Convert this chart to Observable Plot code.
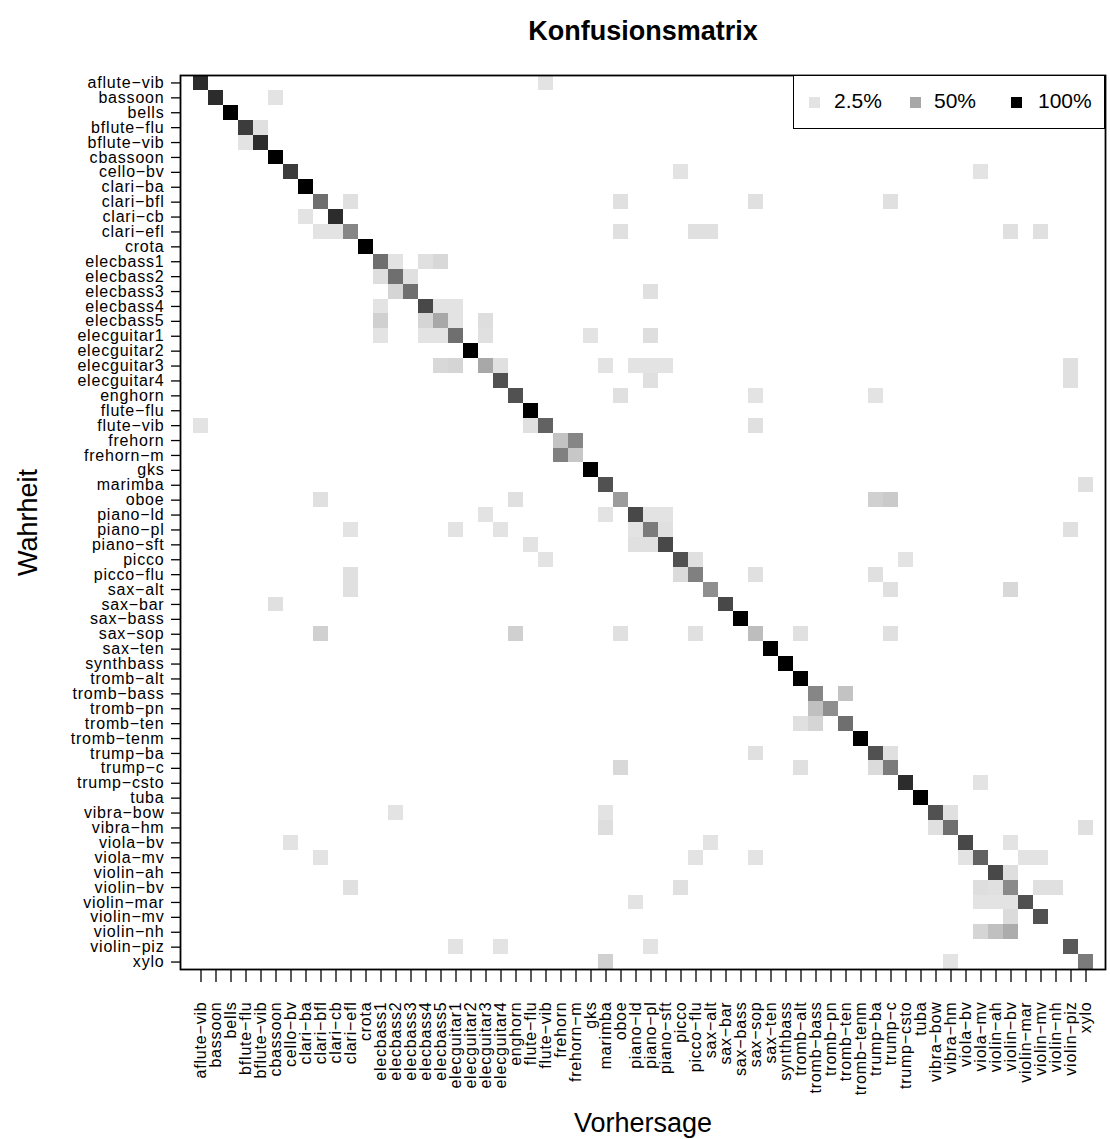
<!DOCTYPE html>
<html>
<head>
<meta charset="utf-8">
<script src="https://cdn.jsdelivr.net/npm/d3@7"></script>
<script src="https://cdn.jsdelivr.net/npm/@observablehq/plot@0.6"></script>
<style>
  body { margin: 0; background: #fff; font-family: "Liberation Sans", Arial, sans-serif; }
  #wrap { position: relative; width: 1110px; height: 1139px; }
  #wrap svg g[aria-label="x-axis tick label"] text,
  #wrap svg g[aria-label="y-axis tick label"] text { letter-spacing: 0.8px; }
  #legend { position: absolute; left: 793px; top: 75px; width: 312px; height: 54px; box-sizing: border-box;
            border: 1.8px solid #000; background: #fff; }
  #legend .sw { position: absolute; top: 21px; width: 11px; height: 11px; }
  #legend .lb { position: absolute; top: 13px; font-size: 21px; line-height: 24px; color: #000; }
</style>
</head>
<body>
<div id="wrap"></div>
<script>
// Klassen (Zeilen = Wahrheit, Spalten = Vorhersage)
const classes = [
  "aflute-vib","bassoon","bells","bflute-flu","bflute-vib","cbassoon","cello-bv","clari-ba","clari-bfl","clari-cb",
  "clari-efl","crota","elecbass1","elecbass2","elecbass3","elecbass4","elecbass5","elecguitar1","elecguitar2","elecguitar3",
  "elecguitar4","enghorn","flute-flu","flute-vib","frehorn","frehorn-m","gks","marimba","oboe","piano-ld",
  "piano-pl","piano-sft","picco","picco-flu","sax-alt","sax-bar","sax-bass","sax-sop","sax-ten","synthbass",
  "tromb-alt","tromb-bass","tromb-pn","tromb-ten","tromb-tenm","trump-ba","trump-c","trump-csto","tuba","vibra-bow",
  "vibra-hm","viola-bv","viola-mv","violin-ah","violin-bv","violin-mar","violin-mv","violin-nh","violin-piz","xylo"
];

// Index der wahren Klasse je Zelle
const truthIdx = [
  0,0, 1,1, 2, 3,3, 4,4, 5, 6,6,6, 7, 8,8,8,8,8, 9,9,
  10,10,10,10,10,10,10,10, 11, 12,12,12,12, 13,13,13, 14,14,14, 15,15,15,15,
  16,16,16,16,16, 17,17,17,17,17,17,17, 18, 19,19,19,19,19,19,19,19,19,
  20,20,20, 21,21,21,21, 22, 23,23,23,23, 24,24, 25,25, 26, 27,27,
  28,28,28,28,28, 29,29,29,29,29, 30,30,30,30,30,30,30, 31,31,31,31,
  32,32,32,32, 33,33,33,33,33, 34,34,34,34, 35,35, 36, 37,37,37,37,37,37,37,
  38, 39, 40, 41,41, 42,42, 43,43,43, 44, 45,45,45, 46,46,46,46, 47,47, 48,
  49,49,49,49, 50,50,50,50, 51,51,51,51, 52,52,52,52,52,52,52, 53,53,
  54,54,54,54,54,54,54, 55,55,55,55,55, 56,56, 57,57,57, 58,58,58,58, 59,59,59
];

// Index der vorhergesagten Klasse je Zelle
const predIdx = [
  0,23, 1,5, 2, 3,4, 3,4, 5, 6,32,52, 7, 8,10,28,37,46, 7,9,
  8,9,10,28,33,34,54,56, 11, 12,13,15,16, 12,13,14, 13,14,30, 12,15,16,17,
  12,15,16,17,19, 12,15,16,17,19,26,30, 18, 16,17,19,20,27,29,30,31,58,
  20,30,58, 21,28,37,45, 22, 0,22,23,37, 24,25, 24,25, 26, 27,59,
  8,21,28,45,46, 19,27,29,30,31, 10,17,20,29,30,31,58, 22,29,30,31,
  23,32,33,47, 10,32,33,37,45, 10,34,46,54, 5,35, 36, 8,21,28,33,37,40,46,
  38, 39, 40, 41,43, 41,42, 40,41,43, 44, 37,45,46, 28,40,45,46, 47,52, 48,
  13,27,49,50, 27,49,50,59, 6,34,51,54, 8,33,37,51,52,55,56, 53,54,
  10,32,52,53,54,56,57, 29,52,53,54,55, 54,56, 52,53,54, 17,20,30,58, 27,50,59
];

// Anteil in Prozent je Zelle
const share = [
  97.5,2.5, 97.5,2.5, 100, 95,5, 2.5,97.5, 100, 95,2.5,2.5, 100, 80,5,5,5,5, 2.5,97.5,
  2.5,2.5,70,5,5,5,5,5, 100, 80,2.5,5,12.5, 7.5,80,5, 15,80,5, 2.5,92.5,2.5,2.5,
  20,15,50,2.5,7.5, 2.5,2.5,2.5,80,5,2.5,7.5, 100, 12.5,15,50,5,2.5,2.5,2.5,2.5,5,
  90,5,5, 90,5,2.5,2.5, 100, 2.5,5,85,5, 30,70, 72.5,27.5, 100, 90,5,
  5,5,57.5,20,25, 2.5,2.5,92.5,2.5,2.5, 2.5,2.5,2.5,2.5,75,5,5, 2.5,5,5,92.5,
  2.5,90,5,2.5, 5,10,72.5,5,5, 5,65,5,12.5, 5,92.5, 100, 20,20,5,5,35,5,5,
  100, 100, 100, 70,30, 32.5,65, 5,15,80, 100, 5,90,5, 12.5,5,10,75, 97.5,2.5, 100,
  2.5,2.5,90,5, 7.5,5,80,5, 2.5,2.5,92.5,2.5, 2.5,2.5,2.5,2.5,85,2.5,2.5, 92.5,7.5,
  5,5,7.5,5,67.5,5,5, 2.5,2.5,2.5,2.5,90, 10,90, 15,32.5,47.5, 2.5,2.5,2.5,87.5, 20,2.5,75
];

const legendValues = [2.5, 50, 100];
const legendLabels = ["2.5%", "50%", "100%"];

const cells = share.map((v, i) => ({
  truth: classes[truthIdx[i]],
  pred: classes[predIdx[i]],
  share: v
}));

const grayRamp = t => {
  const v = Math.round(255 * 0.9 * Math.pow(Math.max(0, 1 - t), 0.45));
  return `rgb(${v},${v},${v})`;
};
const minus = d => d.replace(/-/g, "\u2212");
const font = '"Liberation Sans", Arial, sans-serif';

const chart = Plot.plot({
  width: 1110,
  height: 1139,
  marginLeft: 180,
  marginRight: 5,
  marginTop: 75,
  marginBottom: 170,
  style: { fontFamily: font, background: "#fff", color: "#000" },
  x: { type: "band", domain: classes, padding: 0, axis: null },
  y: { type: "band", domain: classes, padding: 0, axis: null },
  color: { type: "linear", domain: [0, 100], interpolate: grayRamp },
  marks: [
    Plot.cell(cells, { x: "pred", y: "truth", fill: "share", inset: 0, shapeRendering: "crispEdges" }),
    Plot.frame({ stroke: "#000", strokeWidth: 1.8 }),
    Plot.axisX({ anchor: "bottom", tickSize: 13, tickPadding: 19, tickRotate: -90, tickFormat: minus,
                 fontSize: 16, label: null, stroke: "#000", strokeWidth: 1.3 }),
    Plot.axisY({ anchor: "left", tickSize: 9, tickPadding: 7, tickFormat: minus,
                 fontSize: 16, label: null, stroke: "#000", strokeWidth: 1.3 }),
    Plot.text(["Konfusionsmatrix"], { text: d => d, frameAnchor: "top", lineAnchor: "middle", textAnchor: "middle",
                 dy: -44, fontSize: 27, fontWeight: "bold" }),
    Plot.text(["Wahrheit"], { text: d => d, frameAnchor: "left", lineAnchor: "middle", textAnchor: "middle",
                 dx: -152, rotate: -90, fontSize: 27 }),
    Plot.text(["Vorhersage"], { text: d => d, frameAnchor: "bottom", lineAnchor: "middle", textAnchor: "middle",
                 dy: 154, fontSize: 27 })
  ]
});

const wrap = document.getElementById("wrap");
wrap.appendChild(chart);

const color = chart.scale("color");
const legend = d3.select(wrap).append("div").attr("id", "legend");
const swatchLeft = [15, 116, 217];
const labelLeft = [40, 140, 244];
legendValues.forEach((v, i) => {
  legend.append("div").attr("class", "sw").style("left", swatchLeft[i] + "px").style("background", color.apply(v));
  legend.append("div").attr("class", "lb").style("left", labelLeft[i] + "px").text(legendLabels[i]);
});
</script>
</body>
</html>
